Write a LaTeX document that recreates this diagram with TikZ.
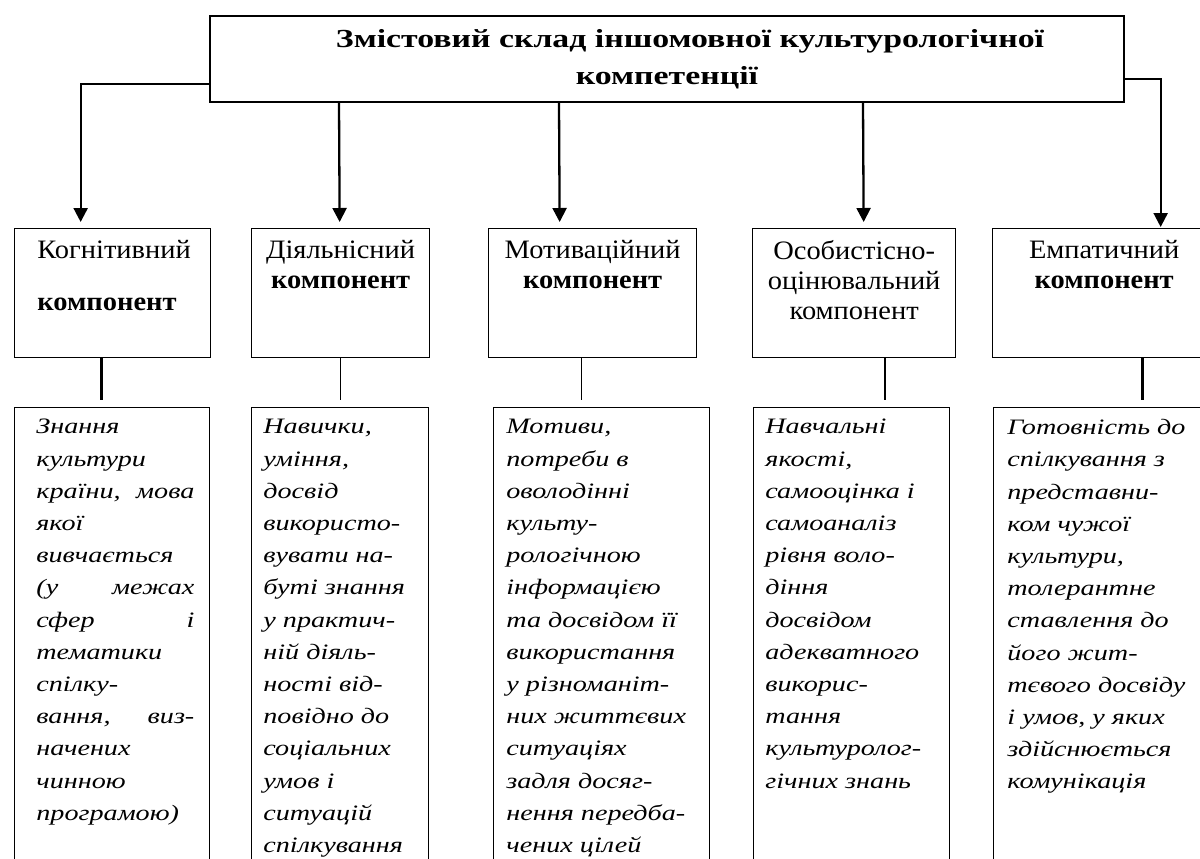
\documentclass[tikz,border=0pt]{standalone}
\usepackage{fontspec}
\setmainfont{Liberation Serif}
\newfontfamily\headfont{Liberation Serif}[FakeStretch=1.3]
\newfontfamily\compfont{Liberation Serif}[FakeStretch=1.07]
\newfontfamily\notefont{Liberation Serif}[FakeStretch=1.28]
\usetikzlibrary{arrows.meta,calc}

\begin{document}
\begin{tikzpicture}[
  x=0.5pt, y=-0.5pt,
  >={Triangle[length=7pt,width=7pt]},
  headbox/.style={draw, line width=0.75pt, minimum width=457pt, minimum height=43pt,
                  align=center, inner sep=0pt,
                  font=\headfont\bfseries\fontsize{13pt}{18.5pt}\selectfont},
  compbox/.style={draw, line width=0.65pt, anchor=north west, minimum height=64.5pt, inner sep=0pt},
  notebox/.style={draw, line width=0.65pt, anchor=north west, minimum height=240pt, inner sep=0pt},
  complabel/.style={anchor=north, align=center, inner sep=0pt,
                    font=\compfont\fontsize{13.3pt}{15pt}\selectfont},
  notelabel/.style={anchor=north west, align=left, inner sep=0pt,
                    font=\notefont\itshape\fontsize{11pt}{16.1pt}\selectfont},
  arr/.style={->, line width=1.15pt},
  stub/.style={line width=1pt}
]
  \useasboundingbox (0,0) rectangle (1200,858);
  \clip (0,0) rectangle (1200,858);

  % --- Head box ---
  \node[headbox] (head) at (667,59)
       {\hspace*{23pt}Змістовий склад іншомовної культурологічної\\компетенції};

  % --- Component boxes (upper row) and note boxes (lower row) ---
  \foreach \n/\xl/\w in {1/14/98pt, 2/251/89pt, 3/488/104pt, 4/752/101.5pt, 5/992/111.5pt}{
    \node[compbox, minimum width=\w] (c\n) at (\xl,228) {};
  }
  \foreach \n/\xl/\w in {1/14/97.5pt, 2/251/88.5pt, 3/493/108pt, 4/753/98pt, 5/993/111pt}{
    \node[notebox, minimum width=\w] (d\n) at (\xl,407) {};
  }

  % --- Arrows from head box ---
  \draw[arr] ([shift={(0,25)}]head.west) -| ([shift={(-32,-6)}]c1.north);
  \draw[arr] ([shift={(-328,0)}]head.south) -- ([shift={(-1,-6)}]c2.north);
  \draw[arr] ([shift={(-108,0)}]head.south) -- ([shift={(-33,-6)}]c3.north);
  \draw[arr] ([shift={(196,0)}]head.south) -- ([shift={(9.5,-6)}]c4.north);
  \draw[arr] ([shift={(0,20)}]head.east) -| ([shift={(56.5,-1)}]c5.north);

  % --- Stubs between the rows ---
  \foreach \n/\dx/\ex/\lw in {1/-11/-10.5/1.4pt, 2/0/0.5/0.8pt, 3/-11/-20/0.8pt,
                              4/30.5/33/1.1pt, 5/38.5/38/1.4pt}{
    \draw[stub, line width=\lw] ([shift={(\dx,0)}]c\n.south) -- ([shift={(\ex,-7)}]d\n.north);
  }

  % --- Component labels ---
  \node[complabel, anchor=north west, align=left,
        font=\compfont\fontsize{13.3pt}{26pt}\selectfont]
       (c1text) at ([shift={(23,12)}]c1.north west) {Когнітивний\\\textbf{компонент}};
  \node[complabel] (c2text) at ([shift={(0,12)}]c2.north) {Діяльнісний\\\textbf{компонент}};
  \node[complabel] (c3text) at ([shift={(0,12)}]c3.north) {Мотиваційний\\\textbf{компонент}};
  \node[complabel] (c4text) at ([shift={(0,12)}]c4.north) {Особистісно-\\оцінювальний\\компонент};
  \node[complabel] (c5text) at ([shift={(0,12)}]c5.north) {Емпатичний\\\textbf{компонент}};

  % --- Note texts ---
  \node[notelabel, text width=79pt] (d1text) at ([shift={(22,12)}]d1.north west)
       {Знання\\культури\\країни,\hfill мова\\якої\\вивчається\\(у\hfill межах\\сфер\hfill і\\
        тематики\\спілку-\\вання,\hfill виз-\\начених\\чинною\\програмою)};
  \node[notelabel] (d2text) at ([shift={(12,12)}]d2.north west)
       {Навички,\\уміння,\\досвід\\використо-\\вувати на-\\буті знання\\у практич-\\
        ній діяль-\\ності від-\\повідно до\\соціальних\\умов і\\ситуацій\\спілкування};
  \node[notelabel] (d3text) at ([shift={(13,12)}]d3.north west)
       {Мотиви,\\потреби в\\оволодінні\\культу-\\рологічною\\інформацією\\та досвідом її\\
        використання\\у різноманіт-\\них життєвих\\ситуаціях\\задля досяг-\\нення передба-\\чених цілей};
  \node[notelabel] (d4text) at ([shift={(12,12)}]d4.north west)
       {Навчальні\\якості,\\самооцінка і\\самоаналіз\\рівня воло-\\діння\\досвідом\\
        адекватного\\викорис-\\тання\\культуролог-\\гічних знань};
  \node[notelabel] (d5text) at ([shift={(14,12)}]d5.north west)
       {Готовність до\\спілкування з\\представни-\\ком чужої\\культури,\\толерантне\\
        ставлення до\\його жит-\\тєвого досвіду\\і умов, у яких\\здійснюється\\комунікація};
\end{tikzpicture}
\end{document}
